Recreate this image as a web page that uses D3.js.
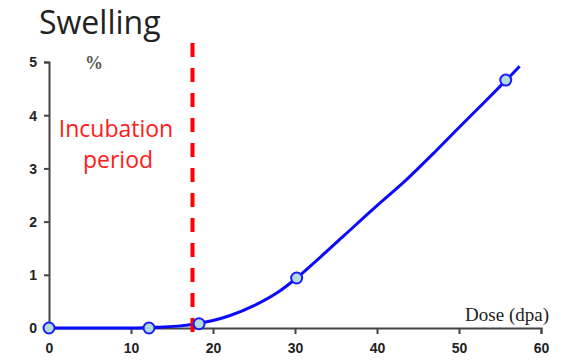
<!DOCTYPE html>
<html>
<head>
<meta charset="utf-8">
<script src="https://cdn.jsdelivr.net/npm/d3@7"></script>
<style>
  body { margin: 0; background: #fff; }
  svg { display: block; }
</style>
</head>
<body>
<script>
// Measured points (dose in dpa, swelling in %)
var pointDose = [0, 12.2, 18.3, 30.2, 55.7];
var pointSwell = [0, 0, 0.08, 0.94, 4.66];

// Fitted curve
var curveDose = [0, 10, 12, 14, 16, 18, 20, 22, 25, 28, 30.2, 33, 36, 40, 43.4, 47, 50, 53, 55.7, 57.4];
var curveSwell = [0, 0, 0.01, 0.02, 0.04, 0.08, 0.14, 0.23, 0.42, 0.68, 0.94, 1.32, 1.74, 2.3, 2.76, 3.3, 3.77, 4.23, 4.65, 4.92];

var xTicks = [0, 10, 20, 30, 40, 50, 60];
var yTicks = [0, 1, 2, 3, 4, 5];
var incubationDose = 17.5;

var width = 572, height = 364;
var margin = {top: 62, right: 31, bottom: 36, left: 49};

var x = d3.scaleLinear().domain([0, 60]).range([margin.left, width - margin.right]);
var y = d3.scaleLinear().domain([0, 5]).range([height - margin.bottom, margin.top]);

var svg = d3.select("body").append("svg")
    .attr("width", width)
    .attr("height", height);

// title
svg.append("text")
    .attr("x", 39)
    .attr("y", 34)
    .style("font-family", "'Open Sans', sans-serif")
    .style("font-size", "32px")
    .attr("fill", "#222")
    .text("Swelling");

// x axis
var xAxis = svg.append("g")
    .attr("transform", "translate(0," + y(0) + ")")
    .call(d3.axisBottom(x).tickValues(xTicks).tickSize(6).tickSizeOuter(6).tickPadding(6));

// y axis
var yAxis = svg.append("g")
    .attr("transform", "translate(" + x(0) + ",0)")
    .call(d3.axisLeft(y).tickValues(yTicks).tickFormat(d3.format("d")).tickSize(5).tickSizeOuter(5).tickPadding(7));

[xAxis, yAxis].forEach(function(a) {
  a.select(".domain").attr("stroke", "#444").attr("stroke-width", 2);
  a.selectAll(".tick line").attr("stroke", "#444").attr("stroke-width", 2);
  a.selectAll(".tick text")
    .style("font-family", "'Liberation Sans', Arial, sans-serif")
    .style("font-size", "14px")
    .style("font-weight", "bold")
    .attr("fill", "#222");
});
xAxis.selectAll(".tick text").attr("dy", "0.95em");
yAxis.selectAll(".tick text").attr("dy", "0.35em");

// unit label
svg.append("text")
    .attr("x", 94)
    .attr("y", 69)
    .attr("text-anchor", "middle")
    .style("font-family", "'Liberation Serif', serif")
    .style("font-size", "18px")
    .style("font-weight", "bold")
    .attr("fill", "#555")
    .text("%");

// x label
svg.append("text")
    .attr("x", 549)
    .attr("y", 321)
    .attr("text-anchor", "end")
    .style("font-family", "'Liberation Serif', 'Times New Roman', serif")
    .style("font-size", "19px")
    .attr("fill", "#222")
    .text("Dose (dpa)");

// incubation text
var inc = svg.append("text")
    .attr("text-anchor", "middle")
    .style("font-family", "'Open Sans', sans-serif")
    .style("font-size", "23px")
    .attr("fill", "#ff1a1a");
inc.append("tspan").attr("x", 116).attr("y", 137).text("Incubation");
inc.append("tspan").attr("x", 118).attr("y", 168).text("period");

// curve
var curveData = curveDose.map(function(d, i) { return [d, curveSwell[i]]; });
var line = d3.line()
    .x(function(d) { return x(d[0]); })
    .y(function(d) { return y(d[1]); })
    .curve(d3.curveMonotoneX);

svg.append("path")
    .datum(curveData)
    .attr("fill", "none")
    .attr("stroke", "#0a0aff")
    .attr("stroke-width", 3)
    .attr("d", line);

// dashed incubation line
svg.append("line")
    .attr("x1", x(incubationDose))
    .attr("x2", x(incubationDose))
    .attr("y1", 43)
    .attr("y2", 336)
    .attr("stroke", "#ff0000")
    .attr("stroke-width", 4)
    .attr("stroke-dasharray", "14,11");

// points
svg.selectAll(".pt")
    .data(pointDose)
  .enter().append("circle")
    .attr("class", "pt")
    .attr("cx", function(d) { return x(d); })
    .attr("cy", function(d, i) { return y(pointSwell[i]); })
    .attr("r", 5.5)
    .attr("fill", "#b4dcdc")
    .attr("stroke", "#1a1aff")
    .attr("stroke-width", 2);
</script>
</body>
</html>
